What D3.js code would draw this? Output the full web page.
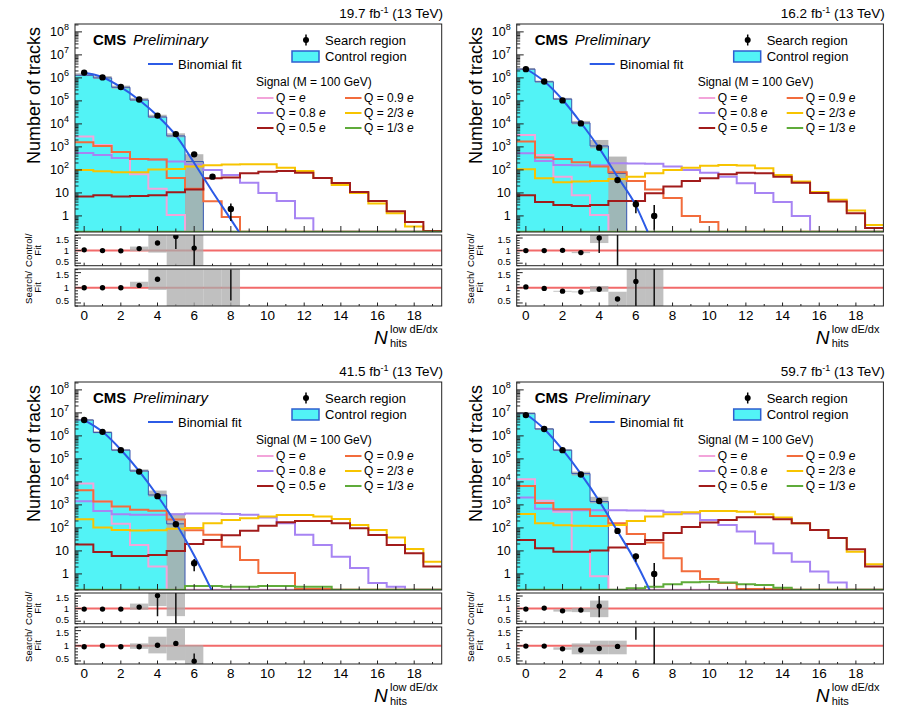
<!DOCTYPE html>
<html>
<head>
<meta charset="utf-8">
<script src="https://cdn.jsdelivr.net/npm/d3@7"></script>
<style>
  body { margin: 0; background: #fff; }
  svg text { font-family: "Liberation Sans", Arial, Helvetica, sans-serif; fill: #000; }
</style>
</head>
<body>
<div id="chart"></div>
<script>
// ---------- shared labels ----------
const lumiLabels = ["19.7", "16.2", "41.5", "59.7"];
const xTickLabels = [0, 2, 4, 6, 8, 10, 12, 14, 16, 18];
const yDecades = [0, 1, 2, 3, 4, 5, 6, 7, 8];
const ratioMajor = [0.5, 1, 1.5];
const ratioMinor = [0.4, 0.6, 0.7, 0.8, 0.9, 1.1, 1.2, 1.3, 1.4, 1.6];
// signal order: Q=e, 0.9e, 0.8e, 2/3e, 0.5e, 1/3e
const sigNames = ["Q = e", "Q = 0.9 e", "Q = 0.8 e", "Q = 2/3 e", "Q = 0.5 e", "Q = 1/3 e"];
const sigColors = ["#f3a4da", "#f26c3c", "#a784f3", "#f7c400", "#a11b1b", "#5fab3a"];

// ---------- panel A : 19.7 fb-1 ----------
const ctrlA = [1.3e6, 1.0e6, 3.9e5, 1.1e5, 2.0e4, 3.0e3, 230];
const ctrlBandA = [[1.2e6, 1.6e6], [9e5, 1.2e6], [3.4e5, 4.6e5], [1.0e5, 1.35e5], [1.8e4, 2.5e4], [2.6e3, 3.9e3], [0.2, 480]];
const searchA = [1.7e6, 1.05e6, 4.0e5, 1.15e5, 2.3e4, 3.6e3, 475, 51, 2.0];
const searchErrA = [null, null, null, null, null, null, [430, 525], [43, 61], [0.6, 3.5]];
const fitXA = [0, 1, 2, 3, 4, 5, 6, 7, 8, 8.45];
const fitYA = [1.66e6, 1.07e6, 3.98e5, 1.1e5, 2.24e4, 3.16e3, 200, 11.2, 0.71, 0.2];
const sigEA  = [2800, 1200, 330, 65, 15, 1.1, 0, 0, 0, 0, 0, 0, 0, 0, 0, 0, 0, 0, 0, 0];
const sig09A = [1600, 1100, 600, 300, 280, 45, 15, 4.3, 0.9, 0, 0, 0, 0, 0, 0, 0, 0, 0, 0, 0];
const sig08A = [550, 450, 330, 300, 280, 230, 170, 100, 60, 28, 10, 4.5, 0.8, 0, 0, 0, 0, 0, 0, 0];
const sig23A = [100, 88, 79, 80, 105, 110, 140, 160, 170, 175, 175, 125, 90, 45, 22, 10, 3.5, 1.3, 0.35, 0.12];
const sig05A = [7, 8, 7, 7.4, 8, 10.6, 14, 43, 47, 71, 84, 90, 75, 45, 27, 11, 4.4, 1.6, 0.55, 0.22];
const sig13A = [0.1, 0.1, 0.1, 0.1, 0.1, 0.1, 0.1, 0.1, 0.1, 0.1, 0.1, 0.1, 0.1, 0.1, 0.1, 0.1, 0.1, 0.1, 0.1, 0.1];
const ratio1A = [1.03, 1.0, 0.99, 1.08, 1.3, 1.56, 1.1];
const ratio1ErrA = [null, null, null, null, null, [1.06, 1.62], [0.4, 1.62]];
const band1A = [null, null, null, [0.98, 1.16], [0.92, 1.62], [0.4, 1.62], [0.4, 1.62]];
const ratio2A = [1.0, 1.0, 1.0, 1.08, 1.28, null, null, null, null];
const ratio2ErrA = [null, null, null, null, null, null, null, null, [0.58, 1.6]];
const band2A = [null, null, null, [1.03, 1.2], [0.93, 1.62], [0.4, 1.62], [0.4, 1.62], [0.4, 1.62], [0.4, 1.62]];

// ---------- panel B : 16.2 fb-1 ----------
const ctrlB = [2.4e6, 6.8e5, 1.2e5, 1.1e4, 1100, 70];
const ctrlBandB = [[2.2e6, 2.7e6], [6.2e5, 7.6e5], [1.1e5, 1.35e5], [9.5e3, 1.35e4], [870, 2000], [0.2, 380]];
const searchB = [2.4e6, 7.0e5, 1.05e5, 1.05e4, 930, 36, 3.2, 1.0];
const searchErrB = [null, null, null, null, null, [29, 45], [1.3, 4.9], [0.25, 3.0]];
const fitXB = [0, 1, 2, 3, 4, 5, 6, 6.65];
const fitYB = [2.5e6, 7.1e5, 1.12e5, 1.12e4, 890, 50, 2.8, 0.2];
const sigEB  = [3300, 450, 50, 8, 1.1, 0, 0, 0, 0, 0, 0, 0, 0, 0, 0, 0, 0, 0, 0, 0];
const sig09B = [1700, 350, 300, 215, 140, 80, 33, 14, 6, 1.0, 0.55, 0, 0, 0, 0, 0, 0, 0, 0, 0];
const sig08B = [530, 245, 165, 160, 160, 195, 190, 185, 140, 100, 76, 50, 26, 10, 4, 1, 0, 0, 0, 0];
const sig23B = [107, 43, 29, 31, 33, 40, 50, 71, 100, 125, 150, 165, 155, 117, 60, 31, 11, 5, 1.7, 0.4];
const sig05B = [8, 4, 3, 2.7, 3, 4.5, 4.5, 9.7, 19, 33, 43, 64, 76, 71, 50, 28, 10, 4.2, 1.3, 0.3];
const sig13B = [0.1, 0.1, 0.1, 0.1, 0.1, 0.1, 0.1, 0.1, 0.1, 0.1, 0.1, 0.1, 0.1, 0.1, 0.1, 0.1, 0.1, 0.1, 0.1, 0.1];
const ratio1B = [1.0, 1.0, 1.01, 0.92, 1.5, null];
const ratio1ErrB = [null, null, null, null, [0.9, 1.62], [0.4, 1.62]];
const band1B = [null, null, null, [0.9, 0.95], [1.3, 1.62], null];
const ratio2B = [1.03, 0.98, 0.89, 0.86, 0.95, 0.63, 1.21, null];
const ratio2ErrB = [null, null, null, null, null, null, [0.4, 1.62], [0.4, 1.62]];
const band2B = [null, null, [0.87, 0.9], [0.85, 0.88], [0.87, 1.06], [0.4, 0.87], [0.4, 1.62], [0.4, 1.62]];

// ---------- panel C : 41.5 fb-1 ----------
const ctrlC = [4.9e6, 1.4e6, 2.4e5, 3.0e4, 2700, 150];
const ctrlBandC = [[4.5e6, 5.4e6], [1.3e6, 1.6e6], [2.2e5, 2.7e5], [2.7e4, 3.5e4], [2.3e3, 4.2e3], [0.2, 430]];
const searchC = [4.9e6, 1.5e6, 2.4e5, 2.8e4, 2.4e3, 144, 2.9];
const searchErrC = [null, null, null, null, null, [122, 168], [1.3, 4.4]];
const fitXC = [0, 1, 2, 3, 4, 5, 6, 6.95];
const fitYC = [4.8e6, 1.5e6, 2.5e5, 2.95e4, 2.5e3, 158, 6.3, 0.2];
const sigEC  = [8500, 1400, 150, 18, 2.1, 0, 0, 0, 0, 0, 0, 0, 0, 0, 0, 0, 0, 0, 0, 0];
const sig09C = [4300, 1400, 850, 620, 560, 230, 80, 50, 15, 4, 1.1, 1.1, 0.22, 0.22, 0, 0, 0, 0, 0, 0];
const sig08C = [1450, 540, 390, 370, 370, 390, 420, 420, 400, 370, 280, 160, 50, 18, 5.6, 1.8, 0.4, 0.28, 0, 0];
const sig23C = [240, 105, 81, 78, 80, 92, 100, 160, 220, 260, 310, 360, 360, 310, 245, 134, 81, 38, 12, 3.4];
const sig05C = [19, 9, 6, 6, 6.7, 10, 20, 30, 48, 75, 125, 175, 200, 200, 160, 96, 49, 18, 7.9, 2.1];
const sig13C = [0.1, 0.1, 0.1, 0.1, 0.1, 0.1, 0.3, 0.3, 0.28, 0.28, 0.3, 0.3, 0.28, 0.28, 0.1, 0.1, 0.1, 0.1, 0.1, 0.1];
const ratio1C = [0.98, 0.98, 0.98, 1.06, 1.52, null];
const ratio1ErrC = [null, null, null, null, [0.7, 1.55], [0.4, 1.62]];
const band1C = [null, null, null, [0.95, 1.2], [1.1, 1.62], [0.7, 1.62]];
const ratio2C = [0.97, 1.0, 0.97, 0.97, 1.02, 1.08, 0.49];
const ratio2ErrC = [null, null, null, null, null, null, [0.45, 0.75]];
const band2C = [null, null, null, [0.9, 1.08], [0.75, 1.3], [0.52, 1.58], [0.4, 1.02]];

// ---------- panel D : 59.7 fb-1 ----------
const ctrlD = [9.5e6, 2.0e6, 2.4e5, 2.3e4, 1400, 0];
const ctrlBandD = [[8.5e6, 1.06e7], [1.8e6, 2.2e6], [2.2e5, 2.65e5], [1.9e4, 2.8e4], [1170, 2250], null];
const searchD = [8.0e6, 2.0e6, 2.4e5, 2.1e4, 1480, 74, 5.8, 1.0];
const searchErrD = [null, null, null, null, null, [63, 86], [3.4, 7.6], [0.3, 3.0]];
const fitXD = [0, 1, 2, 3, 4, 5, 6, 6.75];
const fitYD = [8.9e6, 2.0e6, 2.5e5, 2.24e4, 1.48e3, 71, 3.2, 0.2];
const sigED  = [13000, 1500, 500, 9, 0.8, 0, 0, 0, 0, 0, 0, 0, 0, 0, 0, 0, 0, 0, 0, 0];
const sig09D = [6600, 1200, 650, 640, 330, 160, 55, 23, 4.8, 1.3, 0.6, 0.4, 0.22, 0.22, 0.22, 0, 0, 0, 0, 0];
const sig08D = [2100, 680, 580, 580, 580, 580, 570, 560, 480, 420, 220, 134, 69, 21, 7.9, 3.4, 1.26, 0.42, 0, 0];
const sig23D = [400, 160, 130, 125, 120, 134, 200, 310, 390, 475, 540, 540, 510, 390, 280, 160, 81, 36, 9.3, 2.6];
const sig05D = [30, 13, 9.3, 9.3, 10.5, 14, 20, 30, 60, 110, 170, 220, 290, 290, 240, 160, 81, 36, 11.8, 2.1];
const sig13D = [0.1, 0.1, 0.1, 0.1, 0.1, 0.1, 0.24, 0.28, 0.36, 0.43, 0.46, 0.42, 0.36, 0.33, 0.25, 0.1, 0.1, 0.1, 0.1, 0.1];
const ratio1D = [0.98, 1.02, 0.91, 0.94, 1.1];
const ratio1ErrD = [null, null, null, null, [0.66, 1.5]];
const band1D = [null, null, [0.88, 0.97], [0.86, 1.02], [0.66, 1.32]];
const ratio2D = [0.99, 0.99, 0.9, 0.86, 0.91, 0.98, null, null];
const ratio2ErrD = [null, null, null, null, null, [0.9, 1.06], [1.2, 1.62], [0.4, 1.62]];
const band2D = [null, null, [0.87, 0.95], [0.72, 1.08], [0.72, 1.17], [0.72, 1.17], null, null];

const panels = [
  {ox: 0, oy: 0, lumi: lumiLabels[0], ctrl: ctrlA, ctrlBand: ctrlBandA, search: searchA, searchErr: searchErrA,
   fitX: fitXA, fitY: fitYA, sigs: [sigEA, sig09A, sig08A, sig23A, sig05A, sig13A],
   r1: ratio1A, r1Err: ratio1ErrA, b1: band1A, r2: ratio2A, r2Err: ratio2ErrA, b2: band2A},
  {ox: 441.7, oy: 0, lumi: lumiLabels[1], ctrl: ctrlB, ctrlBand: ctrlBandB, search: searchB, searchErr: searchErrB,
   fitX: fitXB, fitY: fitYB, sigs: [sigEB, sig09B, sig08B, sig23B, sig05B, sig13B],
   r1: ratio1B, r1Err: ratio1ErrB, b1: band1B, r2: ratio2B, r2Err: ratio2ErrB, b2: band2B},
  {ox: 0, oy: 358, lumi: lumiLabels[2], ctrl: ctrlC, ctrlBand: ctrlBandC, search: searchC, searchErr: searchErrC,
   fitX: fitXC, fitY: fitYC, sigs: [sigEC, sig09C, sig08C, sig23C, sig05C, sig13C],
   r1: ratio1C, r1Err: ratio1ErrC, b1: band1C, r2: ratio2C, r2Err: ratio2ErrC, b2: band2C},
  {ox: 441.7, oy: 358, lumi: lumiLabels[3], ctrl: ctrlD, ctrlBand: ctrlBandD, search: searchD, searchErr: searchErrD,
   fitX: fitXD, fitY: fitYD, sigs: [sigED, sig09D, sig08D, sig23D, sig05D, sig13D],
   r1: ratio1D, r1Err: ratio1ErrD, b1: band1D, r2: ratio2D, r2Err: ratio2ErrD, b2: band2D}
];

// ---------- layout (panel-local) ----------
const L = 75, R = 441.7, T = 24, B = 232;
const R1T = 235, R1B = 265.7, R2T = 269, R2B = 306;
const Y_MIN = 0.2, Y_MAX = 2.2e8;
const CYAN = "#52f3f6", CTRL_LINE = "#3a55b0", FIT = "#2c5be6", BAND = "#ababab";

const svg = d3.select("#chart").append("svg")
  .attr("width", 904).attr("height", 708)
  .style("background", "#fff");

const steps = vals => vals.flatMap((v, i) => [[i - 0.5, v], [i + 0.5, v]]);

panels.forEach((p, idx) => drawPanel(p, idx));

function drawPanel(p, idx) {
  const g = svg.append("g").attr("transform", `translate(${p.ox},${p.oy})`);
  const x = d3.scaleLinear().domain([-0.5, 19.5]).range([L, R]);
  const y = d3.scaleLog().domain([Y_MIN, Y_MAX]).range([B, T]);
  const yr1 = d3.scaleLinear().domain([0.4, 1.62]).range([R1B, R1T]);
  const yr2 = d3.scaleLinear().domain([0.4, 1.62]).range([R2B, R2T]);
  const cv = v => Math.max(v, Y_MIN * 1.03);

  const defs = g.append("defs");
  [["m", T, B], ["r1", R1T, R1B], ["r2", R2T, R2B]].forEach(([k, t, b]) => {
    defs.append("clipPath").attr("id", `c${idx}${k}`).append("rect")
      .attr("x", L).attr("y", t).attr("width", R - L).attr("height", b - t);
  });

  // ----- main pad -----
  const main = g.append("g").attr("clip-path", `url(#c${idx}m)`);

  // control region fill
  const area = d3.area().x(d => x(d[0])).y0(B).y1(d => y(cv(d[1])));
  main.append("path").datum(steps(p.ctrl)).attr("d", area).attr("fill", CYAN);

  // control region uncertainty band
  main.selectAll("rect.band")
    .data(p.ctrlBand.map((b, i) => ({b, i})).filter(d => d.b))
    .enter().append("rect").attr("class", "band")
    .attr("x", d => x(d.i - 0.5)).attr("width", x(1) - x(0))
    .attr("y", d => y(d.b[1]))
    .attr("height", d => y(Math.max(d.b[0], Y_MIN)) - y(d.b[1]))
    .attr("fill", BAND).attr("opacity", 0.85);

  // control region outline
  const hline = d3.line().x(d => x(d[0])).y(d => y(cv(d[1])));
  const ctrlPts = steps(p.ctrl);
  ctrlPts.push([p.ctrl.length - 0.5, Y_MIN]);
  main.append("path").datum(ctrlPts).attr("d", hline)
    .attr("fill", "none").attr("stroke", CTRL_LINE).attr("stroke-width", 1);

  // signal histograms
  [0, 2, 1, 3, 4, 5].forEach(k => {
    main.append("path").datum(steps(p.sigs[k])).attr("d", hline)
      .attr("fill", "none").attr("stroke", sigColors[k]).attr("stroke-width", 2);
  });

  // binomial fit
  const fitLine = d3.line().x(d => x(d[0])).y(d => y(d[1])).curve(d3.curveMonotoneX);
  main.append("path").datum(p.fitX.map((v, i) => [v, p.fitY[i]])).attr("d", fitLine)
    .attr("fill", "none").attr("stroke", FIT).attr("stroke-width", 2);

  // search region points
  p.searchErr.forEach((e, i) => {
    if (!e) return;
    main.append("line").attr("x1", x(i)).attr("x2", x(i))
      .attr("y1", y(e[1])).attr("y2", y(Math.max(e[0], Y_MIN)))
      .attr("stroke", "#000").attr("stroke-width", 1.5);
  });
  main.selectAll("circle.pt").data(p.search).enter().append("circle")
    .attr("cx", (d, i) => x(i)).attr("cy", d => y(d)).attr("r", 3.2).attr("fill", "#000");

  g.append("rect").attr("x", L).attr("y", T).attr("width", R - L).attr("height", B - T)
    .attr("fill", "none").attr("stroke", "#222").attr("stroke-width", 1);

  // y ticks (log)
  yDecades.forEach(e => {
    const v = Math.pow(10, e);
    g.append("line").attr("x1", L).attr("x2", L + 7).attr("y1", y(v)).attr("y2", y(v))
      .attr("stroke", "#222");
    const t = g.append("text").attr("x", 69).attr("y", y(v) + 4.5)
      .attr("text-anchor", "end").attr("font-size", 12.5);
    if (e === 0) t.text("1");
    else if (e === 1) t.text("10");
    else {
      t.append("tspan").text("10");
      t.append("tspan").attr("dy", -6).attr("font-size", 9).text(e);
    }
  });
  for (let e = -1; e <= 8; e++) {
    for (let m = 2; m <= 9; m++) {
      const v = m * Math.pow(10, e);
      if (v < Y_MIN || v > Y_MAX) continue;
      g.append("line").attr("x1", L).attr("x2", L + 3.5).attr("y1", y(v)).attr("y2", y(v))
        .attr("stroke", "#222");
    }
  }
  // x ticks on all pads
  [[B, 6, 3.5], [R1B, 3, 2], [R2B, 3.5, 2]].forEach(([yb, maj, mn]) => {
    for (let i = 0; i <= 19; i++) {
      g.append("line").attr("x1", x(i)).attr("x2", x(i)).attr("y1", yb).attr("y2", yb - (i % 2 ? mn : maj))
        .attr("stroke", "#222");
    }
  });

  // ----- ratio pads -----
  drawRatio(g, x, yr1, R1T, R1B, p.r1, p.r1Err, p.b1, `c${idx}r1`, "Control/");
  drawRatio(g, x, yr2, R2T, R2B, p.r2, p.r2Err, p.b2, `c${idx}r2`, "Search/");

  // x tick labels
  g.selectAll("text.xt").data(xTickLabels).enter().append("text")
    .attr("x", d => x(d)).attr("y", 320).attr("text-anchor", "middle")
    .attr("font-size", 13.5).text(d => d);

  // x title
  g.append("text").attr("x", 374).attr("y", 344).attr("font-size", 19)
    .attr("font-style", "italic").text("N");
  g.append("text").attr("x", 390).attr("y", 333).attr("font-size", 11).text("low dE/dx");
  g.append("text").attr("x", 390).attr("y", 347).attr("font-size", 11).text("hits");

  // y title
  g.append("text").attr("transform", "translate(40,27) rotate(-90)")
    .attr("text-anchor", "end").attr("font-size", 18).text("Number of tracks");

  // header
  const h = g.append("text").attr("x", 443).attr("y", 18).attr("text-anchor", "end").attr("font-size", 13.5);
  h.append("tspan").text(p.lumi + " fb");
  h.append("tspan").attr("dy", -5).attr("font-size", 9).text("-1");
  h.append("tspan").attr("dy", 5).text(" (13 TeV)");

  // ----- legend -----
  const cms = g.append("text").attr("y", 45).attr("font-size", 15);
  cms.append("tspan").attr("x", 93).attr("font-weight", "bold").text("CMS");
  cms.append("tspan").attr("x", 133).attr("font-style", "italic").text("Preliminary");

  g.append("line").attr("x1", 306).attr("x2", 306).attr("y1", 34.5).attr("y2", 45.5)
    .attr("stroke", "#000").attr("stroke-width", 1.5);
  g.append("circle").attr("cx", 306).attr("cy", 40).attr("r", 3).attr("fill", "#000");
  g.append("text").attr("x", 325).attr("y", 44.5).attr("font-size", 13).text("Search region");

  g.append("rect").attr("x", 292).attr("y", 51).attr("width", 27).attr("height", 11)
    .attr("fill", CYAN).attr("stroke", "#2f5fd0").attr("stroke-width", 1.5);
  g.append("text").attr("x", 325).attr("y", 60.5).attr("font-size", 13).text("Control region");

  g.append("line").attr("x1", 148).attr("x2", 173).attr("y1", 64).attr("y2", 64)
    .attr("stroke", FIT).attr("stroke-width", 2);
  g.append("text").attr("x", 178).attr("y", 68.5).attr("font-size", 13).text("Binomial fit");

  g.append("text").attr("x", 256).attr("y", 86).attr("font-size", 12).text("Signal (M = 100 GeV)");
  sigNames.forEach((name, k) => {
    const col = k % 2, row = Math.floor(k / 2);
    const ly = 98 + row * 15;
    const lx = col ? 345 : 257;
    g.append("line").attr("x1", lx).attr("x2", lx + 16.5).attr("y1", ly).attr("y2", ly)
      .attr("stroke", sigColors[k]).attr("stroke-width", 2);
    const t = g.append("text").attr("x", col ? 364 : 276).attr("y", ly + 4.3).attr("font-size", 12);
    t.append("tspan").text(name.slice(0, -1));
    t.append("tspan").attr("font-style", "italic").text("e");
  });
}

function drawRatio(g, x, yr, top, bot, vals, errs, band, clipId, label) {
  const rg = g.append("g").attr("clip-path", `url(#${clipId})`);
  rg.append("line").attr("x1", L).attr("x2", R).attr("y1", yr(1)).attr("y2", yr(1))
    .attr("stroke", "#f26a6a").attr("stroke-width", 2);
  rg.selectAll("rect.rb").data(band.map((b, i) => ({b, i})).filter(d => d.b))
    .enter().append("rect").attr("class", "rb")
    .attr("x", d => x(d.i - 0.5)).attr("width", x(1) - x(0))
    .attr("y", d => yr(d.b[1])).attr("height", d => yr(d.b[0]) - yr(d.b[1]))
    .attr("fill", BAND).attr("opacity", 0.75);
  errs.forEach((e, i) => {
    if (!e) return;
    rg.append("line").attr("x1", x(i)).attr("x2", x(i)).attr("y1", yr(e[1])).attr("y2", yr(e[0]))
      .attr("stroke", "#111").attr("stroke-width", 1.5);
  });
  vals.forEach((v, i) => {
    if (v == null) return;
    rg.append("circle").attr("cx", x(i)).attr("cy", yr(v)).attr("r", 2.7).attr("fill", "#000");
  });

  g.append("rect").attr("x", L).attr("y", top).attr("width", R - L).attr("height", bot - top)
    .attr("fill", "none").attr("stroke", "#222").attr("stroke-width", 1);

  ratioMajor.forEach(v => {
    g.append("line").attr("x1", L).attr("x2", L + 6).attr("y1", yr(v)).attr("y2", yr(v)).attr("stroke", "#222");
    // nudge the outer labels inward so neighbouring pads' labels do not collide
    const dy = v === 0.5 ? 1.5 : (v === 1.5 ? 5 : 3.3);
    g.append("text").attr("x", 69).attr("y", yr(v) + dy).attr("text-anchor", "end")
      .attr("font-size", 9.5).text(v);
  });
  ratioMinor.forEach(v => {
    g.append("line").attr("x1", L).attr("x2", L + 3).attr("y1", yr(v)).attr("y2", yr(v)).attr("stroke", "#222");
  });

  const cy = (top + bot) / 2;
  g.append("text").attr("transform", `translate(32,${cy}) rotate(-90)`)
    .attr("text-anchor", "middle").attr("font-size", 9.5).attr("fill", "#333").text(label);
  g.append("text").attr("transform", `translate(41,${cy}) rotate(-90)`)
    .attr("text-anchor", "middle").attr("font-size", 9.5).attr("fill", "#333").text("Fit");
}
</script>
</body>
</html>
